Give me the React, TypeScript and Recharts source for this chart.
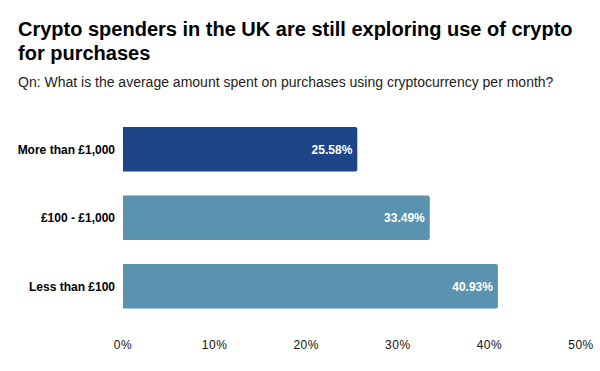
import { BarChart, Bar, XAxis, YAxis, Cell, LabelList } from 'recharts';

const categories = ['More than £1,000', '£100 - £1,000', 'Less than £100'];
const shares = [25.58, 33.49, 40.93];
const barColors = ['#1e4588', '#5a93b0', '#5a93b0'];
const xTicks = [0, 10, 20, 30, 40, 50];

const data = categories.map((name, i) => ({ name, value: shares[i] }));

const font = 'Arial, "Liberation Sans", Helvetica, sans-serif';

export default function App() {
    return (
        <div style={{ position: 'absolute', left: 0, top: 0, width: 600, height: 371, background: '#fff', fontFamily: font }}>
            <div style={{ position: 'absolute', left: 18, top: 17, width: 570, fontSize: 20, fontWeight: 700, lineHeight: '24px', color: '#000' }}>
                Crypto spenders in the UK are still exploring use of crypto for purchases
            </div>
            <div style={{ position: 'absolute', left: 18, top: 73, fontSize: 14, lineHeight: '18px', color: '#222' }}>
                Qn: What is the average amount spent on purchases using cryptocurrency per month?
            </div>
            <div style={{ position: 'absolute', left: 0, top: 0 }}>
                <BarChart
                    width={600}
                    height={371}
                    data={data}
                    layout="vertical"
                    barSize={44.5}
                    margin={{ top: 115, right: 19, bottom: 20.5, left: 0 }}
                >
                    <XAxis
                        type="number"
                        domain={[0, 50]}
                        ticks={xTicks}
                        tickFormatter={(v) => `${v}%`}
                        axisLine={false}
                        tickLine={false}
                        tickMargin={14}
                        height={30}
                        interval={0}
                        tick={{ fill: '#111', fontSize: 12, fontFamily: font, letterSpacing: 0.5 }}
                    />
                    <YAxis
                        type="category"
                        dataKey="name"
                        width={123}
                        axisLine={false}
                        tickLine={false}
                        tick={{ fill: '#000', fontSize: 12, fontWeight: 700, fontFamily: font }}
                    />
                    <Bar dataKey="value" radius={[0, 2, 2, 0]} isAnimationActive={false}>
                        {data.map((d, i) => (
                            <Cell key={d.name} fill={barColors[i]} />
                        ))}
                        <LabelList
                            dataKey="value"
                            position="insideRight"
                            offset={5}
                            formatter={(v: number) => `${v.toFixed(2)}%`}
                            style={{ fill: '#fff', fontSize: 12, fontWeight: 700, fontFamily: font }}
                        />
                    </Bar>
                </BarChart>
            </div>
        </div>
    );
}
